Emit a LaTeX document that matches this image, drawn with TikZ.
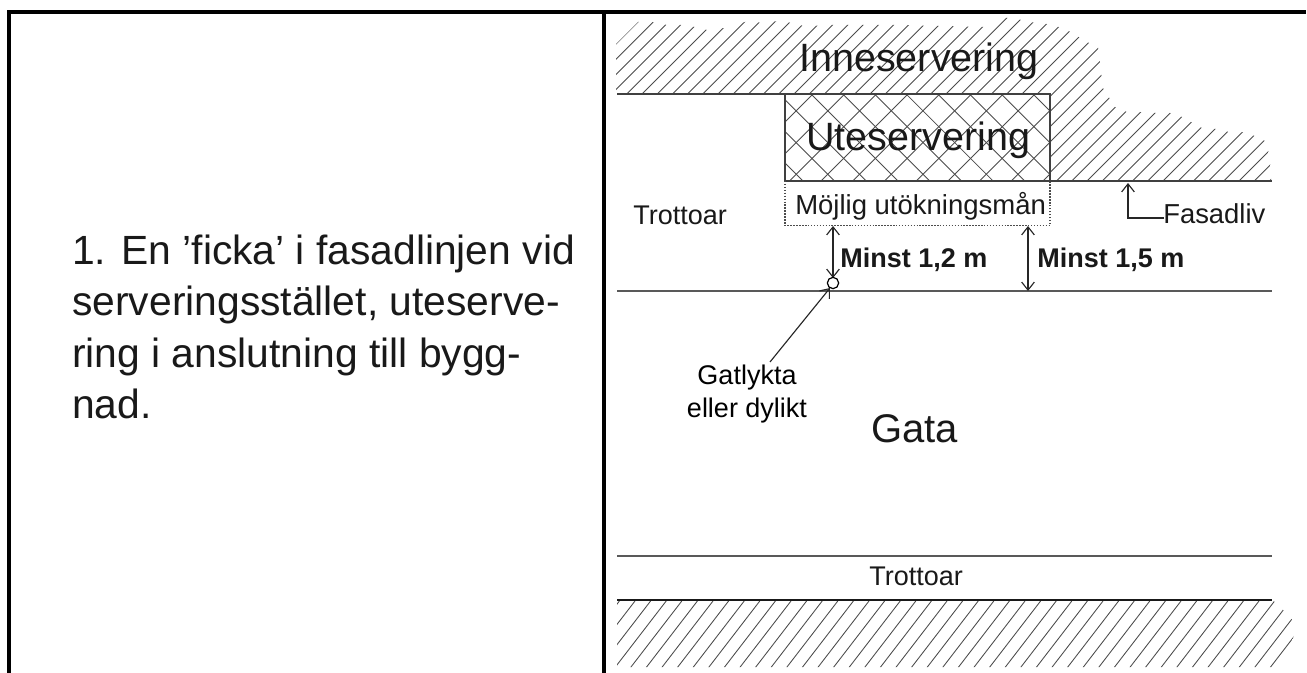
\documentclass[tikz,border=0pt]{standalone}
\usepackage{fontspec}
\setmainfont{Liberation Sans}
\usetikzlibrary{arrows.meta}
\newcommand{\px}[1]{\fontsize{\dimexpr #1pt*3/4\relax}{\dimexpr #1pt*9/10\relax}\selectfont}
\tikzset{
  x=0.75pt,y=-0.75pt,
  frame/.style={line width=2.9pt,black},
  wall/.style={line width=1.3pt,black!75},
  hatch/.style={line width=0.65pt,black!70},
  dim/.style={line width=0.85pt,black!85,{Straight Barb[length=6pt,width=9.5pt]}-{Straight Barb[length=6pt,width=9.5pt]}},
  lead/.style={line width=0.85pt,black!85,-{Straight Barb[length=6pt,width=9.5pt]}},
  lbl/.style={inner sep=0pt,anchor=base west,text=black!90},
}
\begin{document}
\begin{tikzpicture}
\useasboundingbox (0,0) rectangle (1307,673);
\fill[white] (0,0) rectangle (1307,673);
% frame
\coordinate (fTL) at (9,12); \coordinate (fTR) at (1306,12);
\coordinate (fBL) at (9,673); \coordinate (fMT) at (604,12); \coordinate (fMB) at (604,673);
\draw[frame] (7,12) -- (fTR);
\draw[frame] (fTL) -- (fBL);
\draw[frame] (fMT) -- (fMB);
% upper hatch
\begin{scope}
\clip (616,94) -- (616,44) -- (638,22) -- (652,22) -- (667,25) -- (681,25) -- (695,27) -- (707,30) -- (725,28) -- (733,26) -- (748,21) -- (763,23) -- (778,21) -- (793,23) -- (807,27) -- (822,25) -- (900,25) -- (985,27) -- (1000,18) -- (1015,18) -- (1027,22) -- (1040,23) -- (1053,25) -- (1067,30) -- (1087,42) -- (1098,47) -- (1103,88) -- (1115,107) -- (1127,112) -- (1140,112) -- (1155,113) -- (1170,113) -- (1182,117) -- (1202,128) -- (1217,129) -- (1233,133) -- (1245,132) -- (1257,137) -- (1267,142) -- (1271,170) -- (1271,181) -- (1050,181) -- (1050,94) -- cycle;
\foreach \k in {-4,...,52}{
  \draw[hatch] ({660+15.2*\k-200},200) -- ({660+15.2*\k},0);
}
\end{scope}
% crosshatch
\begin{scope}
\clip (785,94) rectangle (1050,181);
\foreach \k in {-6,...,14}{
  \draw[hatch] ({907+31.7*\k-200},200) -- ({907+31.7*\k},0);
  \draw[hatch] ({717+31.7*\k},0) -- ({717+31.7*\k+200},200);
}
\end{scope}
% lower hatch
\begin{scope}
\clip (617,601) -- (1274,601) -- (1290,617) -- (1297,627) -- (1289,649) -- (1280,667) -- (617,667) -- cycle;
\foreach \k in {-6,...,44}{
  \draw[hatch] ({635+15.6*\k},601) -- ({635+15.6*\k-61.6},681);
}
\end{scope}
% walls
\coordinate (wA) at (617,94); \coordinate (wB) at (1050,94);
\coordinate (wC) at (1050,181); \coordinate (wD) at (1272,181); \coordinate (wE) at (785,181); \coordinate (wF) at (785,94);
\draw[wall] (wA) -- (wB) -- (wC) -- (wD);
\draw[wall] (wF) -- (wE) -- (wC);
\coordinate (sL) at (617,291); \coordinate (sR) at (1272,291);
\draw[wall,black!65] (sL) -- (sR);
\coordinate (tL) at (617,556); \coordinate (tR) at (1272,556);
\draw[wall,black!65] (tL) -- (tR);
\coordinate (bL) at (617,600); \coordinate (bR) at (1272,600);
\draw[line width=1.4pt,black!90] (bL) -- (bR);
% dotted box
\draw[line width=1pt,black!70,dash pattern=on 1.1pt off 1.1pt] (wE) -- (785,225.5) -- (1050,225.5) -- (wC);
% dims
\coordinate (d1t) at (833,226); \coordinate (d1b) at (833,278);
\draw[dim] (d1t) -- (d1b);
\coordinate (d2t) at (1028,226); \coordinate (d2b) at (1028,291);
\draw[dim] (d2t) -- (d2b);
\node[circle,draw=black,line width=0.9pt,fill=white,minimum size=8.5pt,inner sep=0pt] (lamp) at (833,283) {};
\coordinate (ltail) at (770,362); \coordinate (lhead) at (830,288);
\draw[lead] (ltail) -- (lhead);
\coordinate (fA) at (1128,218); \coordinate (fB) at (1128,183); \coordinate (fC) at (1164,218);
\draw[lead] (fC) -- (fA) -- (fB);
% texts
\node[lbl,font=\px{40.8}] (t1) at (72,264.5) {1. En ’ficka’ i fasadlinjen vid};
\node[lbl,font=\px{40.8}] (t2) at (72,316) {serveringsstället, uteserve-};
\node[lbl,font=\px{40.8}] (t3) at (72,367.5) {ring i anslutning till bygg-};
\node[lbl,font=\px{40.8}] (t4) at (72,419) {nad.};
\node[lbl,font=\px{39.5}] (inne) at (799,72) {Inneservering};
\node[lbl,font=\px{39.5}] (ute) at (806,151) {Uteservering};
\node[lbl,font=\px{27.5}] (moj) at (795,215) {Möjlig utökningsmån};
\node[lbl,font=\px{27}] (tr1) at (633,225) {Trottoar};
\node[lbl,font=\px{27.4}] (fas) at (1163,224) {Fasadliv};
\node[lbl,font=\px{27}\bfseries] (m12) at (840,268) {Minst 1,2 m};
\node[lbl,font=\px{27}\bfseries] (m15) at (1037,268) {Minst 1,5 m};
\node[lbl,font=\px{40}] (gata) at (871,443) {Gata};
\node[font=\px{27},inner sep=0pt,anchor=base] (g1) at (747,385) {Gatlykta};
\node[font=\px{27},inner sep=0pt,anchor=base] (g2) at (747,418) {eller dylikt};
\node[lbl,font=\px{27}] (tr2) at (869,585) {Trottoar};
\end{tikzpicture}
\end{document}
